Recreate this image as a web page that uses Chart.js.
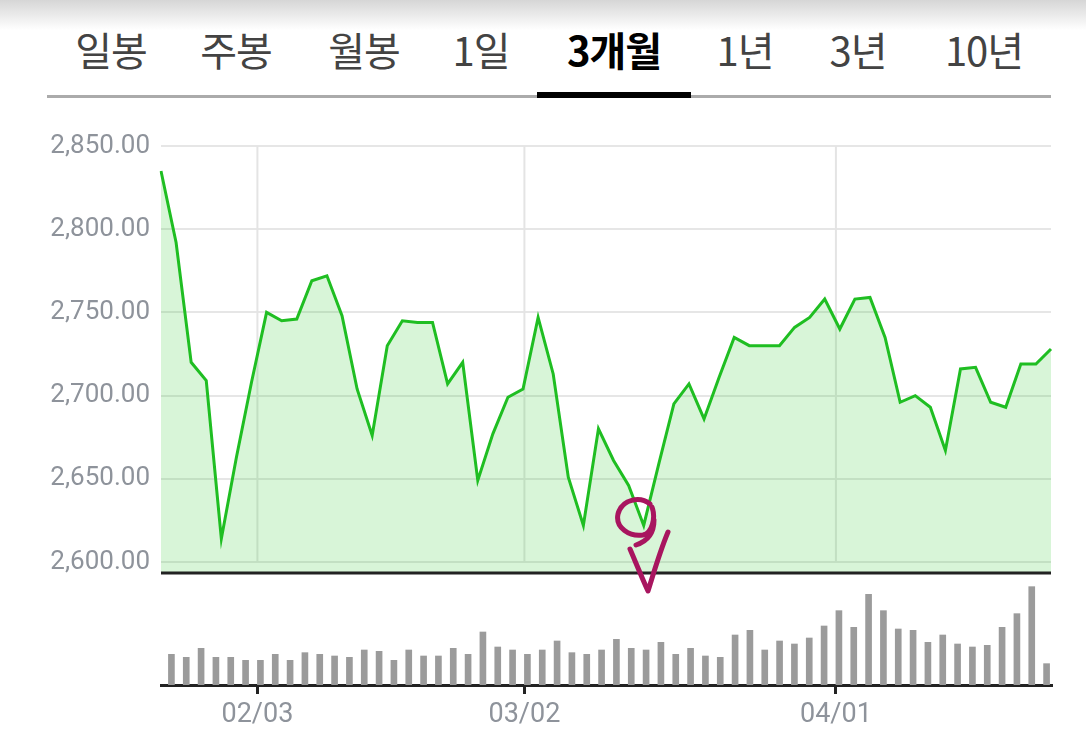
<!DOCTYPE html>
<html>
<head>
<meta charset="utf-8">
<script src="https://cdn.jsdelivr.net/npm/chart.js@4.4.1/dist/chart.umd.min.js"></script>
<style>
  html, body { margin: 0; padding: 0; background: #fff; }
  body { width: 1086px; height: 755px; position: relative; overflow: hidden; font-family: Roboto, "Noto Sans CJK KR", sans-serif; }
  .shade { position: absolute; left: 0; top: 0; width: 1086px; height: 30px; background: linear-gradient(#d6d6d6, #ffffff); }
  .tab { position: absolute; top: 24px; transform: translateX(-50%); font-family: "Noto Sans CJK KR", sans-serif; font-size: 40px; line-height: 50px; color: #434343; white-space: nowrap; letter-spacing: -1px; }
  .tab.on { color: #000; font-weight: 700; }
  .rule { position: absolute; left: 47px; top: 95px; width: 1004px; height: 3px; background: #ababab; }
  .sel { position: absolute; left: 537px; top: 92px; width: 154px; height: 6px; background: #000; }
  #wrap { position: absolute; left: 0; top: 110px; width: 1086px; height: 645px; }
  svg { position: absolute; left: 0; top: 0; pointer-events: none; }
</style>
</head>
<body>
<div class="shade"></div>
<span class="tab" style="left:111px">일봉</span>
<span class="tab" style="left:236px">주봉</span>
<span class="tab" style="left:364px">월봉</span>
<span class="tab" style="left:481px">1일</span>
<span class="tab on" style="left:614px">3개월</span>
<span class="tab" style="left:745px">1년</span>
<span class="tab" style="left:858px">3년</span>
<span class="tab" style="left:984px">10년</span>
<div class="rule"></div>
<div class="sel"></div>
<div id="wrap"><canvas id="chart" width="1086" height="645"></canvas></div>
<svg width="1086" height="755">
  <g fill="none" stroke="#a8155f" stroke-width="5" stroke-linecap="round" stroke-linejoin="round">
    <path d="M 650 504 C 640 496, 622 499, 618 514 C 615 528, 630 537, 643 535 C 652 533, 656 518, 652 507 M 654 520 C 654 532, 648 541, 636 545"/>
    <path d="M 630 549 C 636 563, 642 578, 648 591 C 654 572, 660 551, 668 532"/>
  </g>
</svg>
<script>
// 거래일 (2022)
const dates = ['01/21','01/24','01/25','01/26','01/27','01/28',
  '02/03','02/04','02/07','02/08','02/09','02/10','02/11','02/14','02/15','02/16','02/17','02/18',
  '02/21','02/22','02/23','02/24','02/25','02/28',
  '03/02','03/03','03/04','03/07','03/08','03/10','03/11','03/14','03/15','03/16','03/17','03/18',
  '03/21','03/22','03/23','03/24','03/25','03/28','03/29','03/30','03/31',
  '04/01','04/04','04/05','04/06','04/07','04/08','04/11','04/12','04/13','04/14','04/15',
  '04/18','04/19','04/20','04/21'];

// 종가
const prices = [2835, 2792, 2720, 2709, 2614, 2663,
  2708, 2750, 2745, 2746, 2769, 2772, 2748, 2704, 2676, 2730, 2745, 2744,
  2744, 2707, 2720, 2649, 2677, 2699,
  2704, 2747, 2713, 2651, 2622, 2680, 2661, 2646, 2622, 2659, 2695, 2707,
  2686, 2711, 2735, 2730, 2730, 2730, 2741, 2747, 2758,
  2740, 2758, 2759, 2735, 2696, 2700, 2693, 2667, 2716, 2717, 2696,
  2693, 2719, 2719, 2728];

// 거래량 (상대값)
const volumes = [92, 83, 110, 83, 83, 74,
  74, 92, 74, 97, 92, 87, 83, 105, 101, 74, 105, 87,
  87, 110, 92, 159, 114, 105,
  92, 105, 132, 97, 92, 105, 137, 110, 105, 128, 92, 110,
  87, 83, 150, 164, 105, 132, 123, 141, 177,
  223, 173, 272, 223, 168, 164, 128, 150, 123, 114, 119,
  173, 214, 295, 64];

const yTicks = [2600, 2650, 2700, 2750, 2800, 2850];
const monthTicks = ['02/03', '03/02', '04/01'];

const axisGrey = '#8e939b';

// 세로 격자선(가격 영역만) + 가격 영역 하단 굵은 선
const priceGrid = {
  id: 'priceGrid',
  beforeDatasetsDraw(chart) {
    const { ctx, scales: { x, y } } = chart;
    ctx.save();
    ctx.strokeStyle = '#e4e4e4';
    ctx.lineWidth = 2;
    monthTicks.forEach(function (lbl) {
      const px = x.getPixelForValue(dates.indexOf(lbl));
      ctx.beginPath();
      ctx.moveTo(px, y.top);
      ctx.lineTo(px, y.getPixelForValue(yTicks[0]));
      ctx.stroke();
    });
    ctx.restore();
  },
  afterDatasetsDraw(chart) {
    const { ctx, chartArea, scales: { y } } = chart;
    ctx.save();
    ctx.strokeStyle = '#222';
    ctx.lineWidth = 3;
    ctx.beginPath();
    ctx.moveTo(chartArea.left, y.bottom);
    ctx.lineTo(chartArea.right, y.bottom);
    ctx.stroke();
    ctx.restore();
  }
};

new Chart(document.getElementById('chart'), {
  type: 'bar',
  data: {
    labels: dates,
    datasets: [
      {
        type: 'line',
        label: '종가',
        data: prices,
        xAxisID: 'x2',
        yAxisID: 'y',
        borderColor: '#1fbe22',
        borderWidth: 3,
        backgroundColor: 'rgba(40, 200, 40, 0.18)',
        fill: 'start',
        pointRadius: 0,
        tension: 0
      },
      {
        label: '거래량',
        data: volumes,
        xAxisID: 'x',
        yAxisID: 'y2',
        backgroundColor: '#9b9b9b',
        barThickness: 6
      }
    ]
  },
  options: {
    responsive: false,
    animation: false,
    events: [],
    layout: { padding: { left: 0, right: 35, top: 36, bottom: 0 } },
    plugins: { legend: { display: false }, tooltip: { enabled: false } },
    scales: {
      x: {
        type: 'category',
        labels: dates,
        offset: true,
        grid: {
          offset: false,
          drawOnChartArea: false,
          drawTicks: true,
          tickLength: 9,
          lineWidth: 3,
          color: c => monthTicks.includes(dates[c.index]) ? '#222' : 'rgba(0,0,0,0)'
        },
        border: { color: '#222', width: 3 },
        ticks: {
          autoSkip: false,
          maxRotation: 0,
          padding: 5,
          color: axisGrey,
          font: { family: 'Roboto', size: 27 },
          callback: (v, i) => monthTicks.includes(dates[i]) ? dates[i] : ''
        },
        afterFit: s => { s.height = 70; }
      },
      x2: {
        type: 'category',
        labels: dates,
        offset: false,
        display: false
      },
      y: {
        position: 'left',
        stack: 'main',
        stackWeight: 427,
        weight: 2,
        min: 2593.4,
        max: 2850,
        afterBuildTicks: s => { s.ticks = yTicks.map(v => ({ value: v })); },
        grid: { color: '#e6e6e6', lineWidth: 2, drawTicks: false },
        border: { display: false },
        ticks: {
          padding: 11,
          color: axisGrey,
          font: { family: 'Roboto', size: 26 },
          callback: v => Number(v).toLocaleString('en-US', { minimumFractionDigits: 2, maximumFractionDigits: 2 })
        },
        afterFit: s => { s.width = 161; }
      },
      y2: {
        position: 'left',
        stack: 'main',
        stackWeight: 112,
        weight: 1,
        min: 0,
        max: 336,
        grid: { display: false },
        border: { display: false },
        ticks: { display: false },
        afterFit: s => { s.width = 161; }
      }
    }
  },
  plugins: [priceGrid]
});
</script>
</body>
</html>
